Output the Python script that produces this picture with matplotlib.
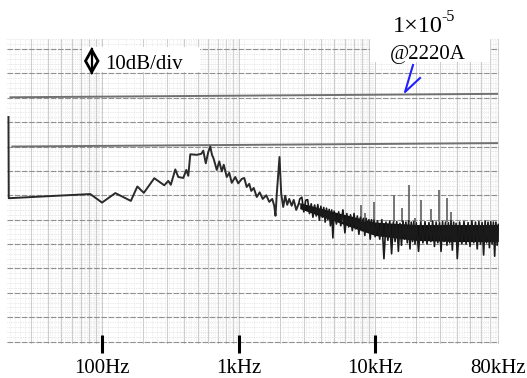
import numpy as np
import matplotlib
matplotlib.use("Agg")
import matplotlib.pyplot as plt
from matplotlib.patches import Rectangle, Polygon

plt.rcParams['font.family'] = ['Liberation Serif', 'DejaVu Serif']

# ---------------- data ----------------
# low-frequency part of the trace: frequency (Hz) and level (dB)
low_f = [20.5, 20.6, 81.6, 99.5, 124.5, 161.8, 180.5, 201.4, 240.4, 284.4,
         304.4, 317.6, 342.6, 360.5, 392.2, 412.6, 426.6, 441.3, 492.4, 531.3,
         549.5, 573.2, 597.9, 618.4, 636.4, 653.8, 690.0, 719.7, 750.8, 776.5,
         816.8, 852.0, 888.7, 942.7, 991.6, 1052, 1097, 1144, 1194, 1235,
         1288, 1355, 1425, 1499, 1591, 1673, 1760, 1820, 1860, 1898,
         1990, 2048, 2118, 2191, 2266, 2344, 2444, 2529, 2638, 2752]
low_db = [-27.9, -61.2, -59.5, -63.0, -59.1, -62.3, -56.4, -59.0, -53.0, -55.9,
          -54.1, -55.7, -49.4, -52.5, -52.9, -49.6, -52.0, -43.2, -43.4, -43.0,
          -41.7, -46.9, -42.2, -40.0, -43.4, -44.9, -49.6, -46.1, -50.2, -47.5,
          -52.5, -50.8, -54.9, -52.5, -55.1, -53.3, -52.9, -56.6, -55.3, -58.2,
          -57.0, -60.7, -58.8, -61.5, -60.0, -62.7, -61.5, -64.3, -68.4, -59.8,
          -44.3, -59.4, -64.8, -60.2, -63.9, -61.5, -64.3, -61.9, -66.0, -63.5]

# noisy high-frequency part of the trace
noise_f = [2800, 2900, 3000, 3100, 3200, 3300, 3400, 3500, 3600, 3700, 3800, 3900,
           4000, 4100, 4200, 4300, 4400, 4500, 4600, 4700, 4800, 4900, 5000,
           5200, 5400, 5600, 5800, 6000, 6200, 6400, 6600, 6800, 7000, 7200, 7400,
           7600, 7800, 8000, 8200, 8400, 8600, 8800, 9000, 9200, 9400, 9600, 9800,
           10000,
           10400, 10800, 11200, 11600, 12000, 12400, 12800, 13200, 13600, 14000,
           14400, 14800, 15200, 15600, 16000, 16400, 16800, 17200, 17600, 18000,
           18400, 18800, 19200, 19600, 20000,
           20800, 21600, 22400, 23200, 24000, 24800, 25600, 26400, 27200, 28000,
           28800, 29600, 30400, 31200, 32000, 32800, 33600, 34400, 35200, 36000,
           36800, 37600, 38400, 39200, 40000,
           41600, 43200, 44800, 46400, 48000, 49600, 51200, 52800, 54400, 56000,
           57600, 59200, 60800, 62400, 64000, 65600, 67200, 68800, 70400, 72000,
           73600, 75200, 76800, 78400, 80000]
noise_db = [-61.5, -60.8, -66.8, -62.0, -61.8, -67.5, -63.5, -69.0, -64.0, -68.5, -63.8, -70.2,
            -64.5, -69.0, -65.0, -71.0, -65.3, -70.0, -65.8, -72.5, -66.0, -77.5, -66.5,
            -71.8, -66.8, -72.5, -66.0, -75.4, -67.5, -73.0, -68.0, -74.5, -67.5, -73.8, -68.5,
            -76.0, -69.0, -74.5, -69.5, -76.5, -69.5, -75.0, -70.0, -78.0, -70.0, -76.0, -70.2,
            -77.0,
            -70.5, -78.0, -70.0, -86.0, -71.0, -78.5, -70.5, -84.0, -71.0, -79.0,
            -70.8, -83.0, -71.5, -80.5, -70.5, -78.0, -71.0, -79.5, -70.5, -82.0,
            -71.0, -79.0, -70.8, -80.0, -71.2,
            -83.0, -71.0, -79.5, -70.8, -80.0, -71.2, -79.0, -70.5, -81.0, -71.0,
            -79.5, -71.3, -83.0, -70.8, -79.0, -71.0, -80.5, -71.2, -79.5, -70.5,
            -82.5, -71.0, -79.0, -71.5, -86.0,
            -71.0, -80.0, -70.8, -80.0, -71.2, -81.0, -70.5, -79.5, -71.0, -82.0,
            -70.8, -80.0, -71.2, -84.5, -70.6, -79.5, -71.0, -81.5, -70.8, -80.0,
            -71.0, -85.0, -71.0, -80.5, -72.0]

# dense core of the noise band (upper / lower edge)
core_f = [2800, 5000, 10000, 20000, 40000, 80000]
core_hi = [-63.0, -66.8, -71.0, -72.0, -72.0, -72.0]
core_lo = [-65.5, -70.5, -76.5, -78.5, -79.0, -79.0]

# discrete spurious lines above the noise
spike_f = [5857, 7899, 8449, 9883, 13780, 15690, 17840, 19630, 21620, 25590, 29580, 33520, 35850]
spike_db = [-66.0, -63.9, -67.2, -62.6, -59.8, -65.3, -55.7, -69.3, -61.9, -65.7, -57.8, -61.2, -66.8]
spike_base = -71.0

# horizontal reference lines (start, end)
ref1_f = [21.2, 78300]
ref1_db = [-19.8, -18.4]
ref2_f = [21.9, 78300]
ref2_db = [-40.0, -38.6]

tick_f = [100, 1000, 10000, 80000]
tick_labels = ['100Hz', '1kHz', '10kHz', '80kHz']

# ---------------- figure ----------------
W, H = 527, 378
fig = plt.figure(figsize=(W / 100, H / 100), dpi=100)
ax = fig.add_axes([7 / W, 1 - 344 / H, 492 / W, 305 / H])
ax.set_xscale('log')
ax.set_xlim(20, 80900)
ax.set_ylim(-121, 4.1)

# graph-paper grid
for d in [10, 100, 1000, 10000]:
    for m in range(1, 10):
        v = d * m
        if 20 < v < 80900:
            ax.axvline(v, color='#c4c4c4', lw=0.6, zorder=0)
    for m in np.arange(1.1, 10, 0.2):
        v = d * m
        if 20 < v < 80900:
            ax.axvline(v, color='#e0e0e0', lw=0.5, ls=(0, (1, 1.5)), zorder=0)
for yv in np.arange(-120, 5, 2):
    ax.axhline(yv, color='#d4d4d4', lw=0.5, ls=(0, (1, 1.5)), zorder=0)
for yv in np.arange(-120, 1, 10):
    ax.axhline(yv, color='#909090', lw=0.8, ls=(0, (5, 1.5)), zorder=0)

for s in ax.spines.values():
    s.set_visible(False)

# reference lines
ax.plot(ref1_f, ref1_db, color='#707070', lw=1.4, zorder=3)
ax.plot(ref2_f, ref2_db, color='#707070', lw=1.4, zorder=3)

# trace
ax.fill_between(core_f, core_lo, core_hi, color='#111111', lw=0, zorder=4)
ax.plot(low_f, low_db, color='#2a2a2a', lw=1.4, zorder=5)
ax.plot([low_f[-1]] + noise_f, [low_db[-1]] + noise_db, color='#1a1a1a', lw=1.2, zorder=5)
ax.vlines(spike_f, spike_base, spike_db, color='#6a6a6a', lw=1.3, zorder=4)

# ticks
ax.set_yticks([])
ax.set_xticks(tick_f)
ax.set_xticklabels(tick_labels, fontsize=15)
ax.xaxis.set_minor_locator(matplotlib.ticker.NullLocator())
ax.tick_params(axis='x', direction='inout', length=13, width=2.2, color='black', pad=4)
ax.xaxis.get_major_ticks()[3].tick1line.set_visible(False)

# white label boxes
def axfrac(px, py):
    return ((px - 7) / 492, (344 - py) / 305)

x0, y0 = axfrac(82, 72)
x1, y1 = axfrac(200, 47)
ax.add_patch(Rectangle((x0, y0), x1 - x0, y1 - y0, transform=ax.transAxes,
                       facecolor='white', edgecolor='none', zorder=6))
x0, y0 = axfrac(370, 62)
x1, y1 = axfrac(490, 30)
ax.add_patch(Rectangle((x0, y0), x1 - x0, y1 - y0, transform=ax.transAxes,
                       facecolor='white', edgecolor='none', zorder=6, clip_on=False))

# diamond marker with vertical stroke
dpts = [axfrac(91.7, 50), axfrac(98, 61), axfrac(91.7, 72), axfrac(85.5, 61)]
ax.add_patch(Polygon(dpts, closed=True, transform=ax.transAxes, fill=False,
                     edgecolor='black', lw=2, zorder=7, clip_on=False))
pa, pb = axfrac(91.7, 49), axfrac(91.7, 73)
ax.plot([pa[0], pb[0]], [pa[1], pb[1]], transform=ax.transAxes, color='black', lw=1.6, zorder=7, clip_on=False)

tx, ty = axfrac(105, 69)
ax.text(tx, ty, '10dB/div', transform=ax.transAxes, fontsize=15, va='baseline', ha='left', zorder=8)

# annotation top right
fig.text(393 / W, 1 - 32 / H, '1×10', fontsize=17.5, va='baseline', ha='left')
fig.text(441 / W, 1 - 21 / H, '-5', fontsize=11.5, va='baseline', ha='left')
fig.text(390 / W, 1 - 59 / H, '@2220A', fontsize=15, va='baseline', ha='left', zorder=9)

# blue arrow
p_tip, p_tail, p_wing = axfrac(405, 92), axfrac(413, 65), axfrac(420, 78)
ax.plot([p_tail[0], p_tip[0], p_wing[0]], [p_tail[1], p_tip[1], p_wing[1]],
        transform=ax.transAxes, color='#1f1fff', lw=1.5, zorder=9, clip_on=False)

fig.savefig('out.png', dpi=100, facecolor='white')
